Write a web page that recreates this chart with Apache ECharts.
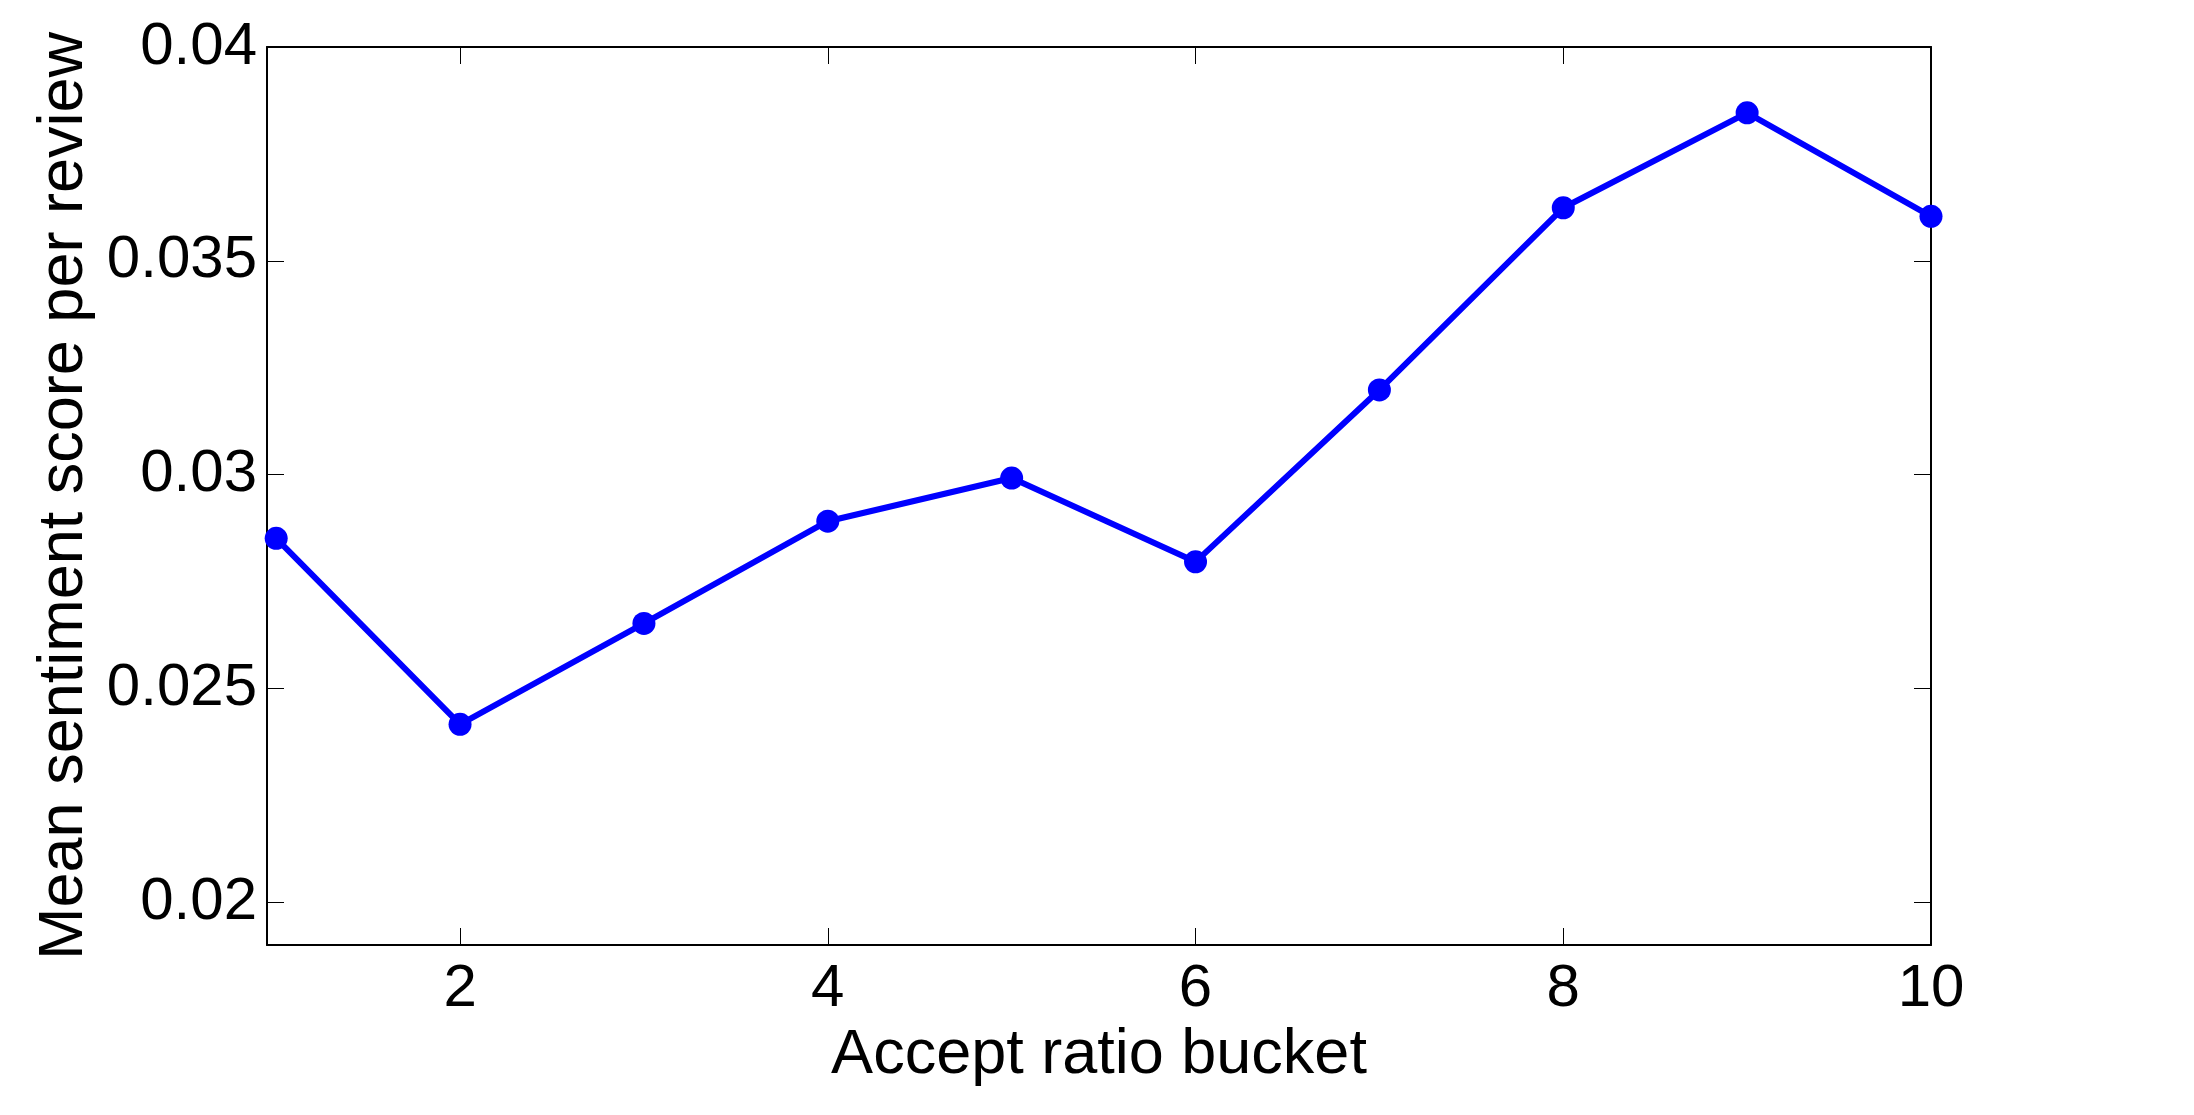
<!DOCTYPE html>
<html>
<head>
<meta charset="utf-8">
<script src="https://cdn.jsdelivr.net/npm/echarts@6/dist/echarts.min.js"></script>
<style>
  html, body { margin: 0; padding: 0; background: #fff; }
  #lineChart { width: 2194px; height: 1115px; }
</style>
</head>
<body>
<div id="lineChart"></div>
<script>
// accept ratio buckets and the mean sentiment for each
var buckets = [1, 2, 3, 4, 5, 6, 7, 8, 9, 10];
var sentiment = [0.02851, 0.02416, 0.02652, 0.02891, 0.02992, 0.02796, 0.03198, 0.03624, 0.03846, 0.03604];
var xTicks = [2, 4, 6, 8, 10];
var yTicks = [0.02, 0.025, 0.03, 0.035, 0.04];
var yTickLabels = ['0.02', '0.025', '0.03', '0.035', '0.04'];

var fontName = '"Liberation Sans", Arial, sans-serif';

var myChart = echarts.init(document.getElementById('lineChart'));

var tickStyle = { color: '#000', width: 1 };
var lineStyle = { color: '#000', width: 2 };

var option = {
  backgroundColor: '#fff',
  animation: false,
  grid: {
    left: 267,
    right: 263,
    top: 47,
    bottom: 170
  },
  xAxis: [
    {
      type: 'value',
      min: 0.95,
      max: 10,
      position: 'bottom',
      name: 'Accept ratio bucket',
      nameLocation: 'middle',
      nameGap: 51,
      nameTextStyle: { fontFamily: fontName, fontSize: 63, color: '#000' },
      axisLine: { show: true, onZero: false, lineStyle: lineStyle },
      axisTick: { show: true, inside: true, length: 17, customValues: xTicks, lineStyle: tickStyle },
      axisLabel: {
        customValues: xTicks,
        margin: 14,
        fontFamily: fontName,
        fontSize: 60,
        color: '#000'
      },
      splitLine: { show: false }
    },
    {
      type: 'value',
      min: 0.95,
      max: 10,
      position: 'top',
      axisLine: { show: true, onZero: false, lineStyle: lineStyle },
      axisTick: { show: true, inside: true, length: 17, customValues: xTicks, lineStyle: tickStyle },
      axisLabel: { show: false },
      splitLine: { show: false }
    }
  ],
  yAxis: [
    {
      type: 'value',
      min: 0.019,
      max: 0.04,
      position: 'left',
      name: 'Mean sentiment score per review',
      nameLocation: 'middle',
      nameGap: 169,
      nameTextStyle: { fontFamily: fontName, fontSize: 63, color: '#000' },
      axisLine: { show: true, onZero: false, lineStyle: lineStyle },
      axisTick: { show: true, inside: true, length: 17, customValues: yTicks, lineStyle: tickStyle },
      axisLabel: {
        customValues: yTicks,
        margin: 10,
        fontFamily: fontName,
        fontSize: 60,
        color: '#000',
        formatter: function (val) {
          var i = yTicks.findIndex(function (t) { return Math.abs(t - val) < 1e-9; });
          return i >= 0 ? yTickLabels[i] : '';
        }
      },
      splitLine: { show: false }
    },
    {
      type: 'value',
      min: 0.019,
      max: 0.04,
      position: 'right',
      axisLine: { show: true, onZero: false, lineStyle: lineStyle },
      axisTick: { show: true, inside: true, length: 17, customValues: yTicks, lineStyle: tickStyle },
      axisLabel: { show: false },
      splitLine: { show: false }
    }
  ],
  series: [
    {
      type: 'line',
      xAxisIndex: 0,
      yAxisIndex: 0,
      data: buckets.map(function (b, i) { return [b, sentiment[i]]; }),
      symbol: 'circle',
      symbolSize: 23,
      clip: false,
      lineStyle: { color: '#0000ff', width: 6 },
      itemStyle: { color: '#0000ff' }
    }
  ]
};

myChart.setOption(option);
</script>
</body>
</html>
